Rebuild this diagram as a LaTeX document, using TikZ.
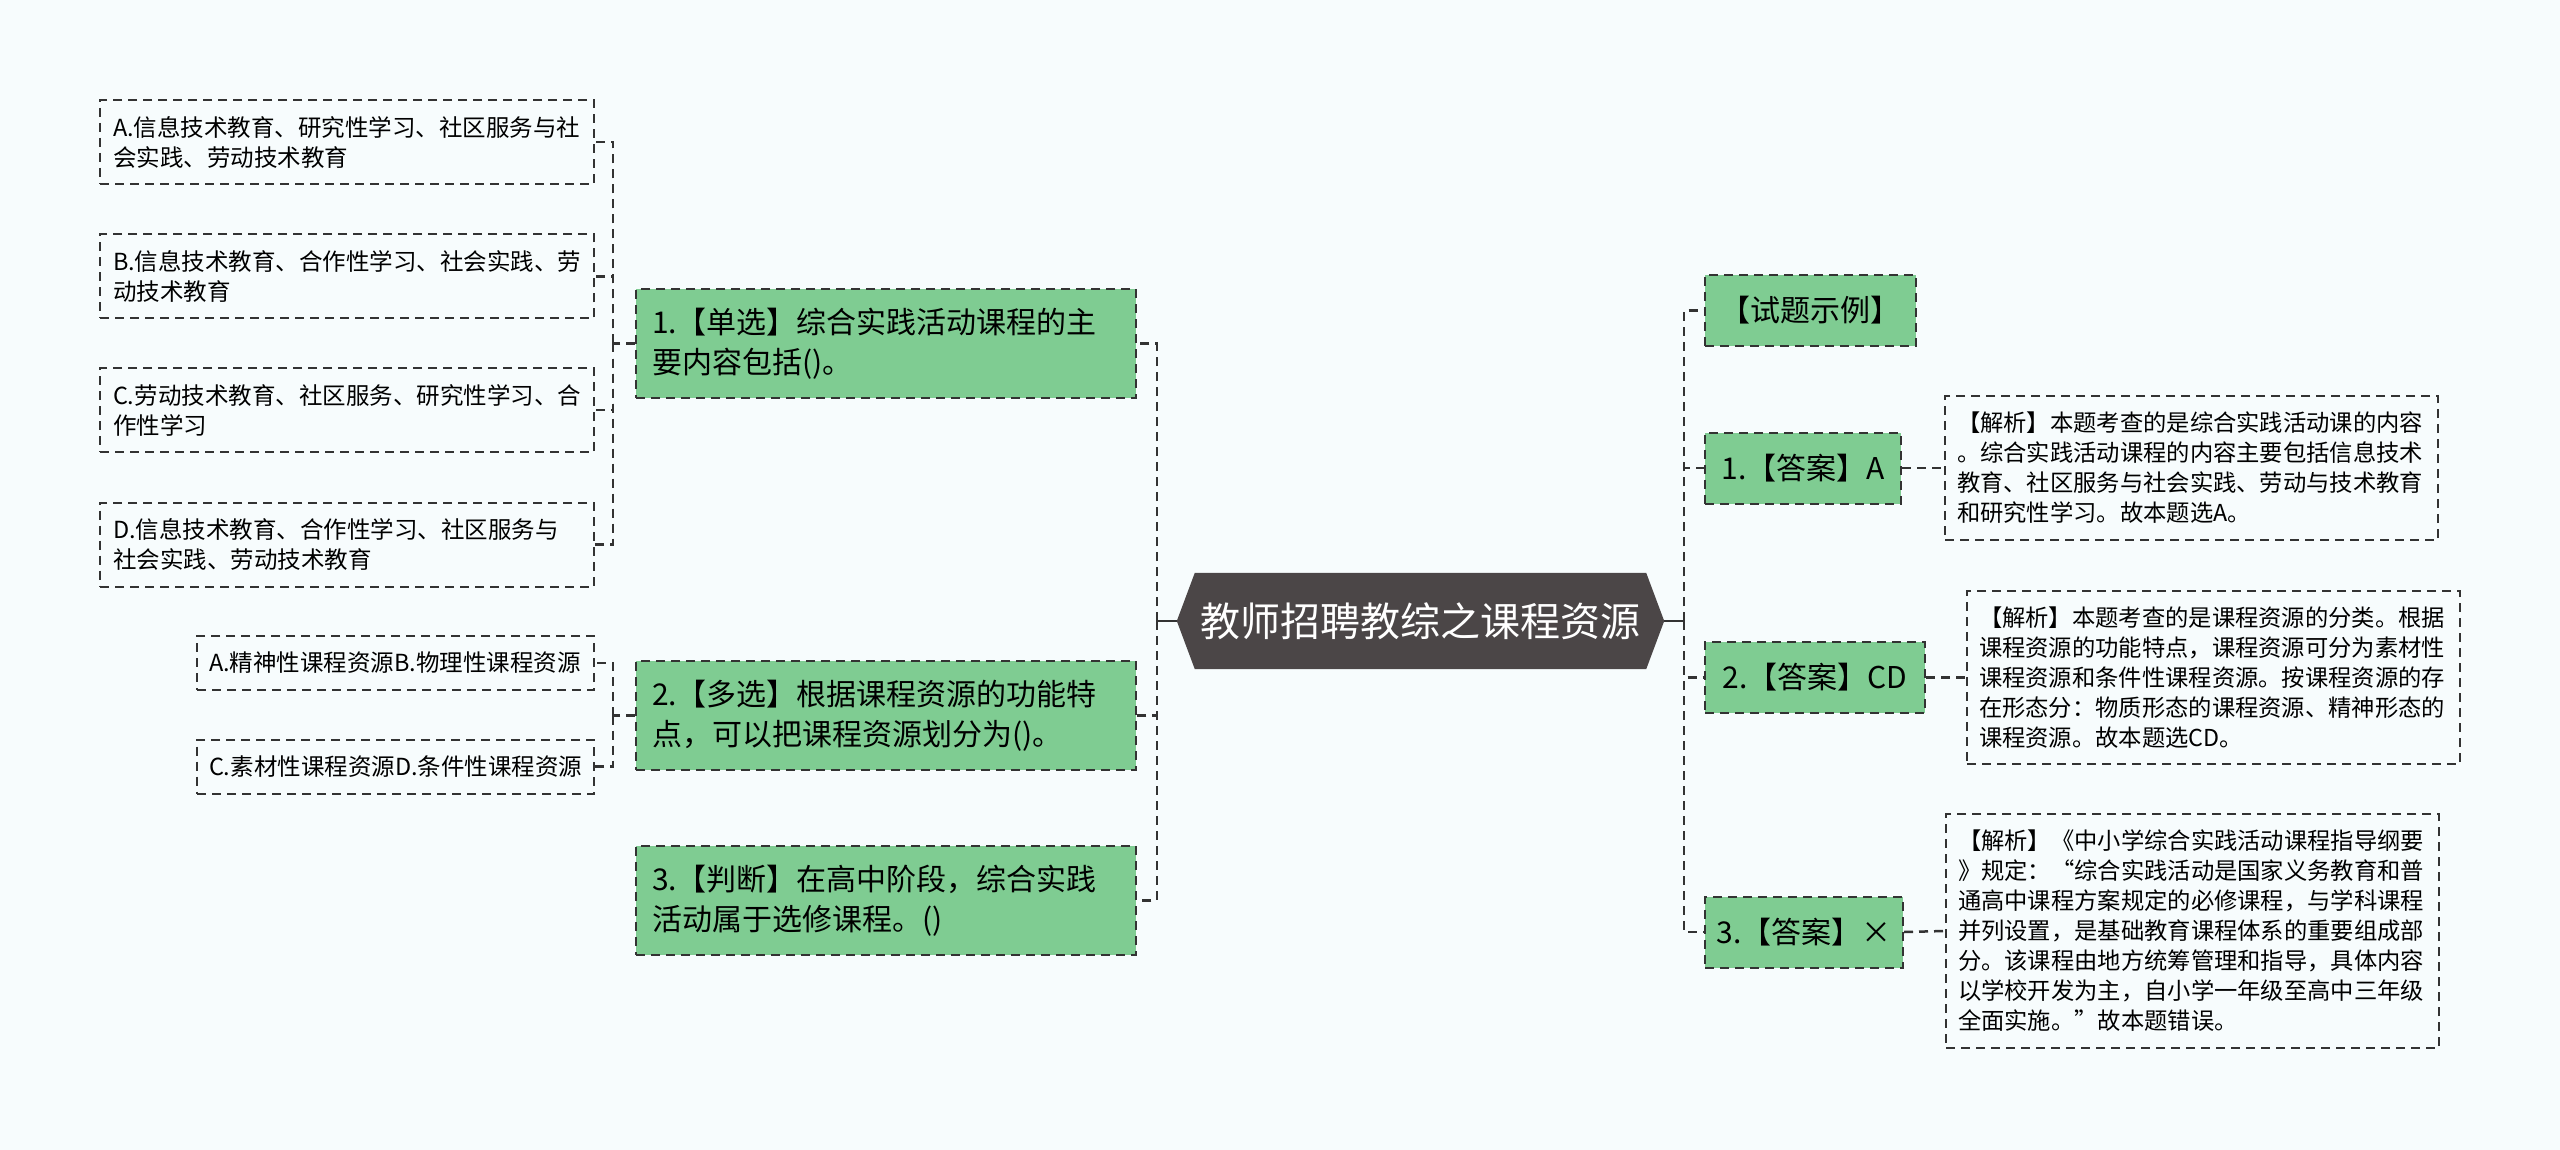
\documentclass[tikz,border=0pt]{standalone}
\usepackage{fontspec}
\setmainfont{Noto Sans CJK SC}
\usetikzlibrary{backgrounds,calc}
\definecolor{bgblue}{HTML}{F7FCFD}
\definecolor{boxgreen}{HTML}{7FCC92}
\definecolor{rootgray}{HTML}{4B4647}
\definecolor{linegray}{HTML}{333333}

\begin{document}
\begin{tikzpicture}[x=1pt,y=-1pt,
  box/.style={draw=linegray,line width=2pt,dash pattern=on 9pt off 6pt,align=left,inner ysep=0pt},
  opt/.style={box,inner xsep=13pt,font=\fontsize{23.5}{30}\selectfont,text width=468pt,minimum height=84pt},
  optshort/.style={box,inner xsep=12pt,font=\fontsize{23.5}{30}\selectfont,text width=373pt,minimum height=54pt},
  quest/.style={box,fill=boxgreen,inner xsep=16pt,font=\fontsize{30}{40}\selectfont,text width=468pt,minimum height=109pt},
  answer/.style={box,fill=boxgreen,align=center,inner xsep=0pt,font=\fontsize{30}{40}\selectfont,minimum height=71pt},
  note/.style={box,inner xsep=12pt,font=\fontsize{23.3}{30}\selectfont,text width=469pt},
  link/.style={draw=linegray,line width=2.5pt,dash pattern=on 9pt off 6pt},
  stem/.style={draw=linegray,line width=2.5pt}]

\useasboundingbox (0,0) rectangle (2560,1150);

\node[font=\fontsize{40}{48}\selectfont,text=white,minimum width=487pt,minimum height=96pt,inner sep=0pt] (root) at (1420.5,621) {教师招聘教综之课程资源};

\node[quest] (q1) at (886,343.5) {1.【单选】综合实践活动课程的主\\要内容包括()。};
\node[quest] (q2) at (886,715.5) {2.【多选】根据课程资源的功能特\\点，可以把课程资源划分为()。};
\node[quest] (q3) at (886,900.5) {3.【判断】在高中阶段，综合实践\\活动属于选修课程。()};

\node[opt] (optA) at (347,142) {A.信息技术教育、研究性学习、社区服务与社\\会实践、劳动技术教育};
\node[opt] (optB) at (347,276.5) {B.信息技术教育、合作性学习、社会实践、劳\\动技术教育};
\node[opt] (optC) at (347,410) {C.劳动技术教育、社区服务、研究性学习、合\\作性学习};
\node[opt] (optD) at (347,544.5) {D.信息技术教育、合作性学习、社区服务与\\社会实践、劳动技术教育};

\node[optshort] (optE) at (395.5,663) {A.精神性课程资源B.物理性课程资源};
\node[optshort] (optF) at (395.5,766.5) {C.素材性课程资源D.条件性课程资源};

\node[answer,minimum width=211pt] (tshi) at (1810.5,310.5) {【试题示例】};
\node[answer,minimum width=196pt] (ans1) at (1803,468) {1.【答案】A};
\node[answer,minimum width=220pt] (ans2) at (1815,677.5) {2.【答案】CD};
\node[answer,minimum width=198pt] (ans3) at (1804,932) {3.【答案】×};

\node[note,minimum height=144pt] (note1) at (2191.5,468) {【解析】本题考查的是综合实践活动课的内容\\。综合实践活动课程的内容主要包括信息技术\\教育、社区服务与社会实践、劳动与技术教育\\和研究性学习。故本题选A。};
\node[note,minimum height=173pt] (note2) at (2213.5,677.5) {【解析】本题考查的是课程资源的分类。根据\\课程资源的功能特点，课程资源可分为素材性\\课程资源和条件性课程资源。按课程资源的存\\在形态分：物质形态的课程资源、精神形态的\\课程资源。故本题选CD。};
\node[note,minimum height=234pt] (note3) at (2192.5,931) {【解析】《中小学综合实践活动课程指导纲要\\》规定：“综合实践活动是国家义务教育和普\\通高中课程方案规定的必修课程，与学科课程\\并列设置，是基础教育课程体系的重要组成部\\分。该课程由地方统筹管理和指导，具体内容\\以学校开发为主，自小学一年级至高中三年级\\全面实施。”故本题错误。};

\coordinate (lj) at ($(root.west)+(-20,0)$);
\coordinate (rj) at ($(root.east)+(20,0)$);
\coordinate (q1j) at ($(q1.west)+(-22,0)$);
\coordinate (q2j) at ($(q2.west)+(-22,0)$);

\draw[stem] (root.west) -- (lj);
\draw[stem] (root.east) -- (rj);

\draw[link] (lj) |- (q1.east);
\draw[link] (lj) |- (q2.east);
\draw[link] (lj) |- (q3.east);

\draw[link] (q1.west) -- (q1j);
\draw[link] (q1j) |- (optA.east);
\draw[link] (q1j) |- (optB.east);
\draw[link] (q1j) |- (optC.east);
\draw[link] (q1j) |- (optD.east);

\draw[link] (q2.west) -- (q2j);
\draw[link] (q2j) |- (optE.east);
\draw[link] (q2j) |- (optF.east);

\draw[link] (rj) |- (tshi.west);
\draw[link] (rj) |- (ans1.west);
\draw[link] (rj) |- (ans2.west);
\draw[link] (rj) |- (ans3.west);

\draw[link] (ans1.east) -- (note1.west);
\draw[link] (ans2.east) -- (note2.west);
\draw[link] (ans3.east) -- (note3.west);

\begin{scope}[on background layer]
\fill[bgblue] (0,0) rectangle (2560,1150);
\fill[rootgray] (root.west) -- ($(root.north west)+(18,0)$) -- ($(root.north east)+(-18,0)$) -- (root.east) -- ($(root.south east)+(-18,0)$) -- ($(root.south west)+(18,0)$) -- cycle;
\end{scope}
\end{tikzpicture}
\end{document}
